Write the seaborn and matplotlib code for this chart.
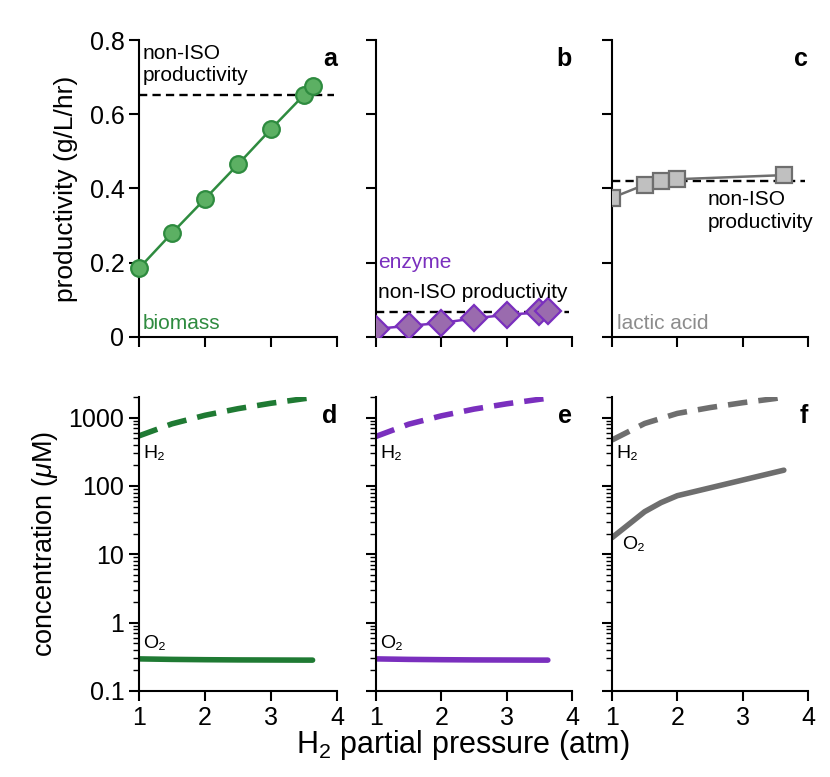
import numpy as np
import pandas as pd
import matplotlib
matplotlib.use("Agg")
import matplotlib.pyplot as plt
import seaborn as sns
from matplotlib.ticker import LogLocator, NullFormatter, FixedLocator

sns.set_style("ticks")
plt.rcParams['font.family'] = ['Liberation Sans', 'DejaVu Sans']
plt.rcParams['mathtext.fontset'] = 'custom'
plt.rcParams['mathtext.rm'] = 'Liberation Sans'
plt.rcParams['mathtext.it'] = 'Liberation Sans:italic'
for key in ['text.color', 'axes.labelcolor', 'xtick.color', 'ytick.color', 'axes.edgecolor']:
    plt.rcParams[key] = 'black'
plt.rcParams['axes.linewidth'] = 1.5
plt.rcParams['xtick.major.width'] = 1.5
plt.rcParams['ytick.major.width'] = 1.5
plt.rcParams['ytick.minor.width'] = 1.0

# productivity data (top row)
p_bio = [1.0, 1.5, 2.0, 2.5, 3.0, 3.5, 3.63]
biomass = [0.185, 0.28, 0.372, 0.465, 0.56, 0.652, 0.675]
biomass_ref = 0.652

p_enz = [1.0, 1.5, 2.0, 2.5, 3.0, 3.5, 3.63]
enzyme = [0.022, 0.03, 0.038, 0.05, 0.06, 0.066, 0.069]
enzyme_ref = 0.066

p_lac = [1.0, 1.5, 1.75, 2.0, 3.63]
lactic = [0.375, 0.41, 0.42, 0.425, 0.436]
lactic_ref = 0.42

# dissolved gas concentrations (bottom row), uM
p_gas = [1.0, 1.5, 2.0, 2.5, 3.0, 3.5, 3.63]
h2_bio = [540, 810, 1080, 1350, 1620, 1890, 1960]
o2_bio = [0.295, 0.29, 0.287, 0.285, 0.284, 0.283, 0.283]
h2_enz = [530, 800, 1060, 1330, 1590, 1850, 1920]
o2_enz = [0.295, 0.29, 0.287, 0.285, 0.284, 0.283, 0.283]
h2_lac = [470, 820, 1150, 1400, 1650, 1900, 2000]
p_o2_lac = [1.0, 1.5, 1.75, 2.0, 3.63]
o2_lac = [17.5, 42, 57, 72, 170]

green, green_fill, green_dark = '#2e8b3f', '#5cb063', '#1f7a33'
purple, purple_fill = '#7a2fbe', '#9a6bae'
gray, gray_fill = '#6e6e6e', '#c0c0c0'

W, H = 830, 777
fig = plt.figure(figsize=(W / 100, H / 100), dpi=100)
cols = [(139, 337), (376, 572), (612, 808)]
top_rows = (40, 337)
bot_rows = (397, 691)


def add_ax(col, row):
    x0, x1 = col
    y0, y1 = row
    return fig.add_axes([x0 / W, 1 - y1 / H, (x1 - x0) / W, (y1 - y0) / H])


top_axes = [add_ax(c, top_rows) for c in cols]
bot_axes = [add_ax(c, bot_rows) for c in cols]

tick_kw = dict(labelsize=18, length=7, direction='out')
note_size = 15
letter_size = 18

# --- top row: productivity ---
top_specs = [
    (p_bio, biomass, biomass_ref, 'o', 12, green, green_fill, 'biomass', 'a'),
    (p_enz, enzyme, enzyme_ref, 'D', 13, purple, purple_fill, 'enzyme', 'b'),
    (p_lac, lactic, lactic_ref, 's', 11, gray, gray_fill, 'lactic acid', 'c'),
]
for i, (ax, spec) in enumerate(zip(top_axes, top_specs)):
    xs, ys, ref, mk, ms, ec, fc, name, letter = spec
    df = pd.DataFrame({'p': xs, 'v': ys})
    ax.axhline(ref, xmin=0, xmax=0.985, color='black', ls=(0, (3.5, 2.2)), lw=1.7, zorder=1)
    sns.lineplot(data=df, x='p', y='v', ax=ax, color=ec, lw=1.8, marker=mk,
                 markersize=ms, markerfacecolor=fc, markeredgecolor=ec,
                 markeredgewidth=1.6, zorder=3, clip_on=(i != 0))
    ax.set_xlim(1, 4)
    ax.set_ylim(0, 0.8)
    ax.set_xticks([1, 2, 3, 4])
    ax.set_xticklabels([])
    ax.set_yticks([0, 0.2, 0.4, 0.6, 0.8])
    ax.tick_params(axis='both', **tick_kw)
    ax.set_xlabel('')
    ax.set_ylabel('')
    sns.despine(ax=ax)
    ax.text(1.0, 0.975, letter, transform=ax.transAxes, ha='right', va='top',
            fontsize=letter_size, fontweight='bold')
    if i == 0:
        ax.set_yticklabels(['0', '0.2', '0.4', '0.6', '0.8'])
        ax.set_ylabel('productivity (g/L/hr)', fontsize=19, labelpad=8)
    else:
        ax.set_yticklabels([])

top_axes[0].text(1.06, 0.79, 'non-ISO\nproductivity', ha='left', va='top',
                 fontsize=note_size, linespacing=1.2)
top_axes[0].text(1.06, 0.012, 'biomass', ha='left', va='bottom',
                 fontsize=note_size, color=green)
top_axes[1].text(1.04, 0.20, 'enzyme', ha='left', va='center',
                 fontsize=note_size, color=purple)
top_axes[1].text(1.03, 0.12, 'non-ISO productivity', ha='left', va='center',
                 fontsize=note_size)
top_axes[2].text(2.47, 0.395, 'non-ISO\nproductivity', ha='left', va='top',
                 fontsize=note_size, linespacing=1.25)
top_axes[2].text(1.07, 0.012, 'lactic acid', ha='left', va='bottom',
                 fontsize=note_size, color='#8c8c8c')

# --- bottom row: concentrations ---
bot_specs = [
    (p_gas, h2_bio, p_gas, o2_bio, green_dark, 'd', 300, 0.5),
    (p_gas, h2_enz, p_gas, o2_enz, purple, 'e', 300, 0.5),
    (p_gas, h2_lac, p_o2_lac, o2_lac, gray, 'f', 300, 14),
]
for i, (ax, spec) in enumerate(zip(bot_axes, bot_specs)):
    xh, yh, xo, yo, col, letter, h2_y, o2_y = spec
    dh = pd.DataFrame({'p': xh, 'c': yh})
    do = pd.DataFrame({'p': xo, 'c': yo})
    sns.lineplot(data=dh, x='p', y='c', ax=ax, color=col, lw=4,
                 dashes=False, linestyle=(0, (3.5, 2.0)))
    sns.lineplot(data=do, x='p', y='c', ax=ax, color=col, lw=4)
    ax.set_yscale('log')
    ax.set_xlim(1, 4)
    ax.set_ylim(0.1, 2000)
    ax.set_xticks([1, 2, 3, 4])
    ax.set_xticklabels(['1', '2', '3', '4'])
    ax.yaxis.set_major_locator(FixedLocator([0.1, 1, 10, 100, 1000]))
    ax.yaxis.set_minor_locator(LogLocator(base=10, subs=np.arange(2, 10), numticks=20))
    ax.yaxis.set_minor_formatter(NullFormatter())
    ax.tick_params(axis='both', **tick_kw)
    ax.tick_params(axis='y', which='minor', length=4, direction='out')
    ax.set_xlabel('')
    ax.set_ylabel('')
    sns.despine(ax=ax)
    ax.text(1.0, 0.975, letter, transform=ax.transAxes, ha='right', va='top',
            fontsize=letter_size, fontweight='bold')
    ax.text(1.06, h2_y, 'H₂', ha='left', va='center', fontsize=14)
    ax.text(1.06 if i < 2 else 1.15, o2_y, 'O₂', ha='left', va='center', fontsize=14)
    if i == 0:
        ax.set_yticklabels(['0.1', '1', '10', '100', '1000'])
        ax.set_ylabel('concentration ($\\mu$M)', fontsize=19.5, labelpad=6)
    else:
        ax.set_yticklabels([])

fig.text(0.557, 0.041, 'H$_2$ partial pressure (atm)', ha='center', va='center', fontsize=22)

fig.savefig('out.png', dpi=100)
